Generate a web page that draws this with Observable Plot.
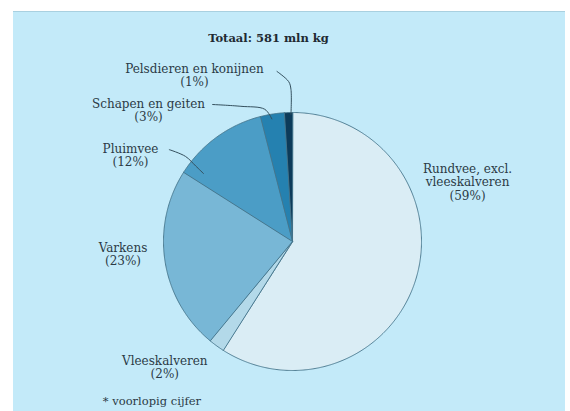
<!DOCTYPE html>
<html>
<head>
<meta charset="utf-8">
<script src="https://cdn.jsdelivr.net/npm/d3@7"></script>
<script src="https://cdn.jsdelivr.net/npm/@observablehq/plot@0.6"></script>
<style>
  html, body { margin: 0; padding: 0; background: #ffffff; }
  #wrap { padding: 11px 0 0 13px; width: 557px; height: 400px; overflow: hidden; }
  #wrap svg { display: block; border-top: 1px solid #a9d0e0; }
  #wrap svg text { font-family: "DejaVu Serif", "Liberation Serif", serif; }
</style>
</head>
<body>
<div id="wrap"></div>
<script>
// ---- data ----
const categories = ["Rundvee, excl. vleeskalveren", "Vleeskalveren", "Varkens", "Pluimvee", "Schapen en geiten", "Pelsdieren en konijnen"];
const shares = [59, 2, 23, 12, 3, 1];
const labelTexts = ["Rundvee, excl.\nvleeskalveren\n(59%)", "Vleeskalveren\n(2%)", "Varkens\n(23%)", "Pluimvee\n(12%)", "Schapen en geiten\n(3%)", "Pelsdieren en konijnen\n(1%)"];
const sliceColors = ["#daedf5", "#b3d9e9", "#78b7d6", "#4b9dc6", "#2581b0", "#0c3b5a"];
const titleText = "Totaal: 581 mln kg";
const noteText = "* voorlopig cijfer";

// ---- layout (pie radius = 1 unit) ----
const FONT = "'DejaVu Serif', 'Liberation Serif', serif";
const W = 552, H = 399, CX = 279, CY = 229, R = 129;
const xDomain = [-CX / R, (W - CX) / R];
const yDomain = [-(H - CY) / R, CY / R];
const labelPos = [[1.357, 0.46], [-0.99, -0.975], [-1.314, -0.10], [-1.256, 0.667], [-1.116, 1.019], [-0.76, 1.291]];
const leaders = [
  {name: "Pluimvee", pts: [[-0.955, 0.712], [-0.83, 0.66], [-0.75, 0.585], [-0.69, 0.527]]},
  {name: "Schapen", pts: [[-0.62, 1.062], [-0.40, 1.048], [-0.215, 1.025], [-0.16, 0.95]]},
  {name: "Pelsdieren", pts: [[-0.12, 1.318], [-0.03, 1.24], [-0.012, 1.18], [-0.012, 0.985]]}
];

// ---- slice polygons from the shares ----
const total = d3.sum(shares);
const slicePts = [];
let cum = 0;
categories.forEach((name, i) => {
  const a0 = cum / total * 2 * Math.PI;
  cum += shares[i];
  const a1 = cum / total * 2 * Math.PI;
  slicePts.push({name, x: 0, y: 0});
  const n = Math.max(2, Math.ceil((a1 - a0) / (Math.PI / 360)));
  for (let k = 0; k <= n; k++) {
    const a = a0 + (a1 - a0) * k / n;
    slicePts.push({name, x: Math.sin(a), y: Math.cos(a)});
  }
});

const labelData = labelTexts.map((t, i) => ({text: t, x: labelPos[i][0], y: labelPos[i][1]}));
const leaderPts = leaders.flatMap(l => l.pts.map(([x, y]) => ({name: l.name, x, y})));

const chart = Plot.plot({
  width: W,
  height: H,
  margin: 0,
  x: {domain: xDomain, axis: null},
  y: {domain: yDomain, axis: null},
  color: {domain: categories, range: sliceColors},
  style: {background: "#c3eaf9", fontFamily: FONT, color: "#2b3a46"},
  marks: [
    Plot.line(slicePts, {x: "x", y: "y", z: "name", fill: "name", stroke: "#44748a", strokeWidth: 0.9, curve: "linear-closed"}),
    Plot.line(leaderPts, {x: "x", y: "y", z: "name", stroke: "#34505e", strokeWidth: 1, curve: "catmull-rom"}),
    Plot.text(labelData, {x: "x", y: "y", text: "text", fontSize: 12, fontFamily: FONT, lineHeight: 1.1, fill: "#2b3a46"}),
    Plot.text([titleText], {x: -0.186, y: 1.575, text: d => d, fontSize: 11.5, fontFamily: FONT, fontWeight: "bold", fill: "#1f2a33"}),
    Plot.text([noteText], {x: -1.47, y: -1.24, text: d => d, fontSize: 11.5, fontFamily: FONT, textAnchor: "start", fill: "#2b3a46"})
  ]
});
document.getElementById("wrap").appendChild(chart);
</script>
</body>
</html>
